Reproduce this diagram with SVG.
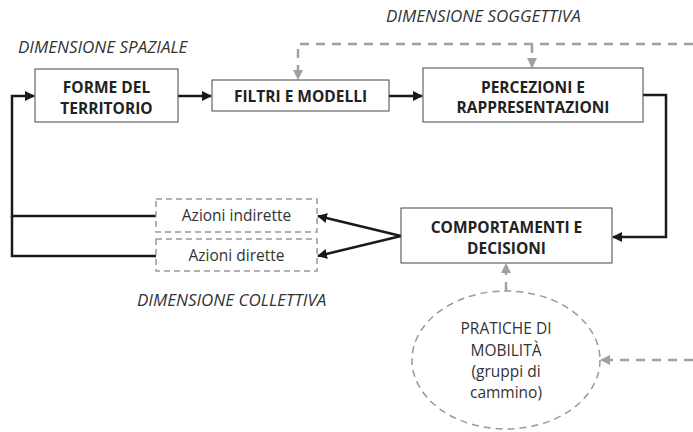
<svg xmlns="http://www.w3.org/2000/svg" width="693" height="432" viewBox="0 0 693 432">
<style>
.box{fill:#fff;stroke:#444;stroke-width:1}
.dbox{fill:#fff;stroke:#999;stroke-width:1.5;stroke-dasharray:6 4}
.b{font-family:"Open Sans","Liberation Sans",sans-serif;font-weight:bold;font-size:15.5px;fill:#222;text-anchor:middle}
.n{font-family:"Open Sans","Liberation Sans",sans-serif;font-size:15.5px;fill:#333;text-anchor:middle}
.it{font-family:"Open Sans","Liberation Sans",sans-serif;font-style:italic;font-size:17px;fill:#333}
.k{fill:none;stroke:#1a1a1a;stroke-width:2.5}
.g{fill:none;stroke:#a0a0a0;stroke-width:2.5;stroke-dasharray:9 7}
</style>
<defs>
<marker id="ak" viewBox="0 0 10 10" refX="9" refY="5" markerWidth="4" markerHeight="4" orient="auto-start-reverse"><path d="M0,0L10,5L0,10z" fill="#1a1a1a"/></marker>
<marker id="ag" viewBox="0 0 10 10" refX="9" refY="5" markerWidth="4" markerHeight="4" orient="auto-start-reverse"><path d="M0,0L10,5L0,10z" fill="#a0a0a0"/></marker>
</defs>
<text class="it" x="18" y="53">DIMENSIONE SPAZIALE</text>
<text class="it" x="386" y="22">DIMENSIONE SOGGETTIVA</text>
<text class="it" x="137" y="306">DIMENSIONE COLLETTIVA</text>
<g id="connectors">
<path class="k" d="M178,96H211" marker-end="url(#ak)"/>
<path class="k" d="M389,96H422" marker-end="url(#ak)"/>
<path class="k" d="M643,95H666V237H613" marker-end="url(#ak)"/>
<path class="k" d="M401,236L318,216" marker-end="url(#ak)"/>
<path class="k" d="M401,236L318,256" marker-end="url(#ak)"/>
<path class="k" d="M156,216H12V96H34" marker-end="url(#ak)"/>
<path class="k" d="M156,256H12V216"/>
<path class="g" d="M693,44H298V79" marker-end="url(#ag)"/>
<path class="g" d="M532,44V67" marker-end="url(#ag)"/>
<path class="g" d="M693,360H601" marker-end="url(#ag)"/>
<path class="g" d="M506,291V264" marker-end="url(#ag)"/>
</g>
<g id="forme"><rect class="box" x="35" y="69" width="143" height="53"/><text class="b" x="106.5" y="93">FORME DEL</text><text class="b" x="106.5" y="113.5">TERRITORIO</text></g>
<g id="filtri"><rect class="box" x="212" y="80" width="177" height="31"/><text class="b" x="300.5" y="102">FILTRI E MODELLI</text></g>
<g id="percezioni"><rect class="box" x="423" y="68" width="220" height="54"/><text class="b" x="533" y="92.5">PERCEZIONI E</text><text class="b" x="533" y="113">RAPPRESENTAZIONI</text></g>
<g id="comportamenti"><rect class="box" x="401" y="208" width="211" height="55"/><text class="b" x="506.5" y="233">COMPORTAMENTI E</text><text class="b" x="506.5" y="254">DECISIONI</text></g>
<g id="indirette"><rect class="dbox" x="156" y="199" width="161" height="33"/><text class="n" x="236.5" y="220.5">Azioni indirette</text></g>
<g id="dirette"><rect class="dbox" x="156" y="239" width="161" height="32"/><text class="n" x="236.5" y="261">Azioni dirette</text></g>
<g id="pratiche"><ellipse cx="506" cy="360" rx="94" ry="69" fill="#fff" stroke="#999" stroke-width="1.5" stroke-dasharray="7 5"/>
<text class="n" x="506" y="334">PRATICHE DI</text><text class="n" x="506" y="356">MOBILITÀ</text><text class="n" x="506" y="377">(gruppi di</text><text class="n" x="506" y="398">cammino)</text></g>
</svg>
